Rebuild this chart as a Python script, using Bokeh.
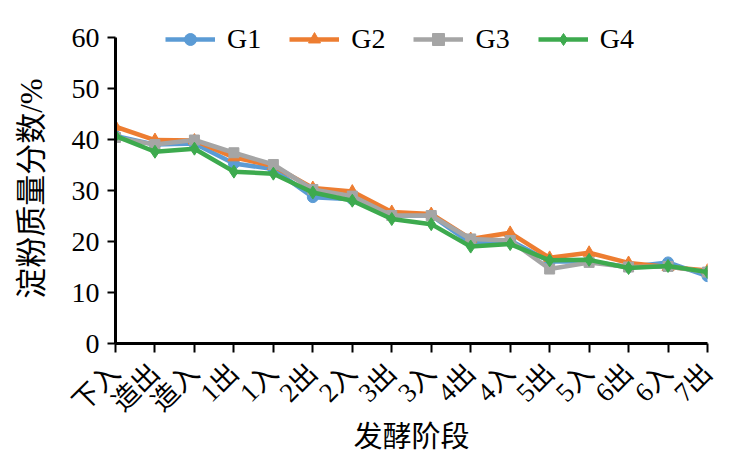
import math
from bokeh.plotting import figure
from bokeh.models import Range1d, FixedTicker, Legend, LegendItem
from bokeh.embed import file_html
from bokeh.resources import INLINE

# Fermentation stages
stages = ["下入", "造出", "造入", "1出", "1入", "2出", "2入", "3出",
          "3入", "4出", "4入", "5出", "5入", "6出", "6入", "7出"]

# Starch mass fraction (%) per group
g1 = [40.7, 39.0, 39.2, 35.3, 34.2, 28.7, 28.3, 25.1, 25.1, 19.7, 20.2, 16.1, 16.1, 15.0, 15.9, 13.2]
g2 = [42.5, 39.9, 39.8, 36.5, 34.8, 30.5, 29.8, 25.8, 25.4, 20.5, 21.7, 16.8, 17.8, 15.8, 15.0, 14.3]
g3 = [40.4, 39.0, 39.9, 37.4, 35.1, 30.2, 28.9, 25.1, 25.1, 20.5, 20.2, 14.6, 15.9, 15.0, 15.1, 14.0]
g4 = [40.7, 37.6, 38.2, 33.7, 33.3, 29.6, 28.0, 24.4, 23.4, 19.0, 19.5, 16.3, 16.4, 14.8, 15.2, 14.0]

y_ticks = [0, 10, 20, 30, 40, 50, 60]

SERIF = "Liberation Serif, Noto Sans CJK SC"

x = list(range(len(stages)))

# frame runs from y=10 to y=343 px; the axis itself is bounded to 0..60
TOP, BOTTOM = 10, 343
y_top = 60 * (BOTTOM - TOP) / (BOTTOM - 37)

p = figure(width=747, height=459, output_backend="svg", toolbar_location=None,
           x_range=Range1d(0, len(stages) - 1), y_range=Range1d(0, y_top),
           min_border_left=115, min_border_right=40, min_border_top=TOP,
           min_border_bottom=459 - BOTTOM)
p.outline_line_color = None
p.grid.grid_line_color = None
p.background_fill_color = "white"
p.border_fill_color = "white"

colors = ["#5B9BD5", "#ED7D31", "#A5A5A5", "#3DAA4E"]
series = [g1, g2, g3, g4]
names = ["G1", "G2", "G3", "G4"]

items = []
for name, ys, col in zip(names, series, colors):
    r_line = p.line(x, ys, line_color=col, line_width=4.5)
    if name == "G1":
        r_m = p.scatter(x, ys, marker="circle", size=11, fill_color=col, line_color=col)
    elif name == "G2":
        r_m = p.scatter(x, ys, marker="triangle", size=12, fill_color=col, line_color=col)
    elif name == "G3":
        r_m = p.scatter(x, ys, marker="square", size=10, fill_color=col, line_color=col)
    else:
        r_m = p.scatter(x, ys, marker="diamond", size=13, fill_color=col, line_color=col)
    items.append(LegendItem(label=name, renderers=[r_line, r_m]))

legend = Legend(items=items, orientation="horizontal", location=(50, 288),
                glyph_width=50, glyph_height=30, label_standoff=12, spacing=28,
                label_text_font=SERIF, label_text_font_size="28px",
                label_text_color="black", border_line_color=None,
                background_fill_alpha=0, padding=0, margin=0)
p.add_layout(legend, "center")

# x axis
p.xaxis.ticker = FixedTicker(ticks=x)
p.xaxis.major_label_overrides = {i: s for i, s in enumerate(stages)}
p.xaxis.major_label_orientation = math.pi / 4
p.xaxis.major_label_text_font = SERIF
p.xaxis.major_label_text_font_size = "27px"
p.xaxis.major_label_text_color = "black"
p.xaxis.axis_label = "发酵阶段"
p.xaxis.axis_label_text_font = SERIF
p.xaxis.axis_label_text_font_size = "29px"
p.xaxis.axis_label_text_font_style = "normal"
p.xaxis.axis_label_text_color = "black"
p.xaxis.axis_label_standoff = -10
p.xaxis.axis_line_width = 3
p.xaxis.major_tick_line_width = 2
p.xaxis.major_tick_in = 0
p.xaxis.major_tick_out = 9
p.xaxis.minor_tick_line_color = None
p.xaxis.major_label_standoff = 16

# y axis; trailing no-break spaces keep the label centred on the 0-60 span
p.yaxis.ticker = FixedTicker(ticks=y_ticks)
p.yaxis.bounds = (0, 60)
p.yaxis.major_label_text_font = SERIF
p.yaxis.major_label_text_font_size = "28px"
p.yaxis.major_label_text_color = "black"
p.yaxis.axis_label = "淀粉质量分数/%" + "\u00a0" * 3
p.yaxis.axis_label_text_font = SERIF
p.yaxis.axis_label_text_font_size = "31px"
p.yaxis.axis_label_text_font_style = "normal"
p.yaxis.axis_label_text_color = "black"
p.yaxis.axis_label_standoff = 20
p.yaxis.axis_line_width = 3
p.yaxis.major_tick_line_width = 2
p.yaxis.major_tick_in = 0
p.yaxis.major_tick_out = 8
p.yaxis.minor_tick_line_color = None
p.yaxis.major_label_standoff = 8

open("out.html", "w").write(file_html(p, INLINE))
